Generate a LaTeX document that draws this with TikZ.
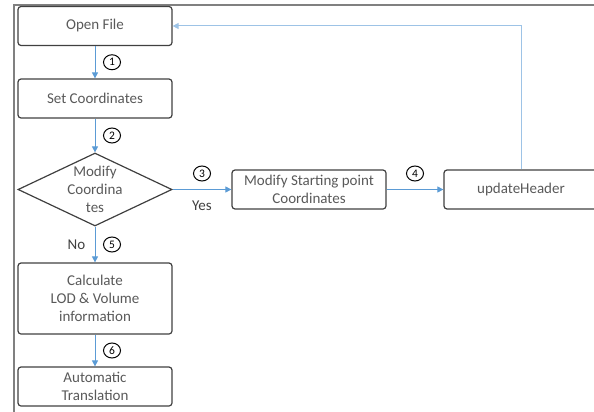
\documentclass[tikz,border=0pt]{standalone}
\usepackage{fontspec}
\setmainfont{Carlito}
\usetikzlibrary{shapes.geometric,arrows.meta,positioning}
\definecolor{boxline}{HTML}{404040}
\definecolor{boxtext}{HTML}{595959}
\definecolor{flowblue}{HTML}{5B9BD5}
\definecolor{backblue}{HTML}{9DC3E6}
\definecolor{framegray}{HTML}{808080}

\begin{document}
\begin{tikzpicture}[
      x=1pt, y=-1pt,
      font=\fontsize{15}{18}\selectfont,
      >={Triangle[length=6pt,width=6pt]},
      procbox/.style={draw=boxline, line width=1.2pt, rounded corners=3pt, minimum width=154pt, minimum height=39pt, text=boxtext, align=center, inner sep=0pt},
      decision/.style={diamond, draw=boxline, line width=1.2pt, minimum width=154pt, minimum height=73pt, inner sep=0pt},
      flow/.style={->, draw=flowblue, line width=0.8pt},
      back/.style={->, draw=backblue, line width=1pt},
      num/.style={ellipse, draw=black, line width=1pt, inner sep=0pt, minimum width=17pt, minimum height=15pt, font=\fontsize{11.5}{11.5}\selectfont},
      answer/.style={text=boxline}
    ]
      \clip (0,0) rectangle (594,412);

      % frame
      \draw[framegray, line width=2pt] (14,412) -- (14,5) -- (594,5);

      \node[procbox] (open) at (95,26) {Open File};
      \node[procbox] (set) at (95,98.5) {Set Coordinates};
      \node[decision, label={[text=boxtext, align=center]center:Modify\\Coordina\\tes}] (dec) at (95,189.5) {};
      \node[procbox] (mod) at (309,189.5) {Modify Starting point\\Coordinates};
      \node[procbox] (upd) at (521,189.5) {updateHeader};
      \node[procbox, minimum height=71pt] (calc) at (95,298.5) {Calculate\\LOD \& Volume\\information};
      \node[procbox] (auto) at (95,386.5) {Automatic\\Translation};

      \draw[flow] (open) -- node[num, right=8pt] {1} (set);
      \draw[flow] (set) -- node[num, right=8pt] {2} (dec);
      \draw[flow] (dec) -- node[num, above=8pt] {3} node[answer, below=8pt] {Yes} (mod);
      \draw[flow] (mod) -- node[num, above=8pt] {4} (upd);
      \draw[flow] (dec) -- node[num, right=8pt] {5} node[answer, left=6pt] {No} (calc);
      \draw[flow] (calc) -- node[num, right=8pt] {6} (auto);

      % back to start
      \draw[back] (upd) |- (open);
    \end{tikzpicture}
\end{document}
